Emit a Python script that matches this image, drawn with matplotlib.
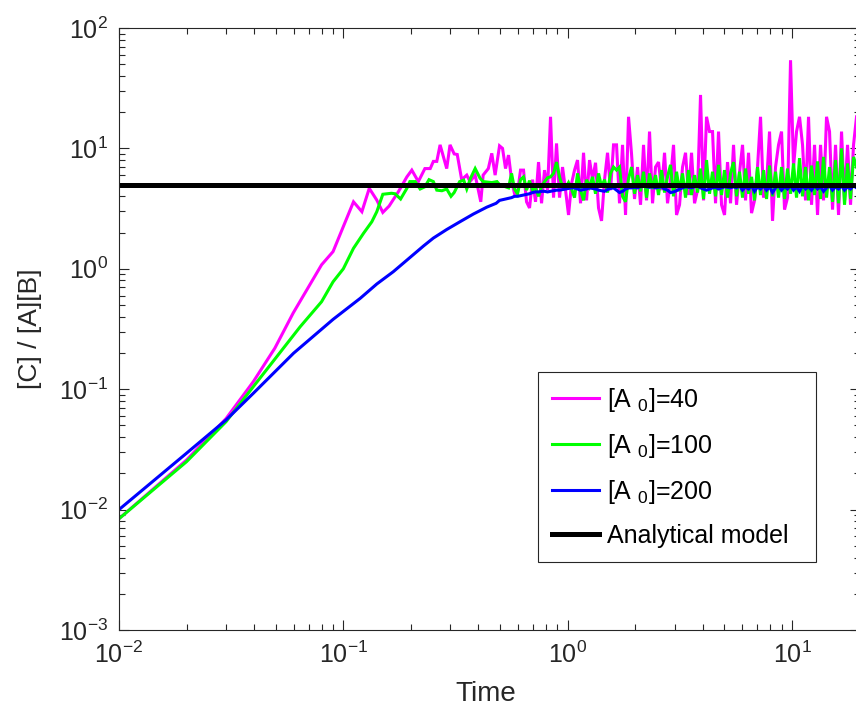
import numpy as np
import matplotlib
matplotlib.use("Agg")
import matplotlib.pyplot as plt
from matplotlib.ticker import LogLocator, NullFormatter

plt.rcParams['font.family'] = ['Liberation Sans', 'DejaVu Sans']
plt.rcParams['mathtext.fontset'] = 'custom'
plt.rcParams['mathtext.rm'] = 'Liberation Sans'
plt.rcParams['mathtext.it'] = 'Liberation Sans'
plt.rcParams['mathtext.default'] = 'regular'

# ---------------- data ----------------
labels = ['[A $_0$]=40', '[A $_0$]=100', '[A $_0$]=200', 'Analytical model']
analytical_value = 5.0

# early (smooth / transient) part
t40_early = [0.01, 0.020, 0.030, 0.0397, 0.0495, 0.0598, 0.080, 0.090, 0.111, 0.121, 0.1305, 0.141,
             0.150, 0.160, 0.176, 0.192, 0.202, 0.216, 0.231, 0.244, 0.252, 0.261, 0.270, 0.289,
             0.299, 0.312, 0.322, 0.337, 0.355, 0.367, 0.387, 0.41, 0.42, 0.443, 0.459, 0.475]
y40_early = [0.0084, 0.0258, 0.057, 0.1155, 0.219, 0.43, 1.08, 1.39, 3.6, 2.98, 4.66, 3.72,
             2.94, 3.32, 4.37, 5.8, 6.6, 5.3, 6.8, 6.8, 7.8, 7.8, 10.7, 6.8,
             10.7, 9.0, 8.9, 5.5, 6.0, 5.3, 6.0, 3.6, 6.0, 6.8, 9.1, 6.0]

t100_early = [0.01, 0.020, 0.030, 0.0397, 0.0505, 0.0642, 0.080, 0.090, 0.100, 0.111, 0.123, 0.134,
              0.141, 0.150, 0.164, 0.170, 0.180, 0.192, 0.198, 0.209, 0.22, 0.231, 0.241, 0.252,
              0.261, 0.275, 0.289, 0.302, 0.312, 0.33, 0.344, 0.355, 0.369, 0.387, 0.407, 0.42,
              0.459, 0.484]
y100_early = [0.0084, 0.025, 0.0537, 0.105, 0.186, 0.33, 0.533, 0.78, 1.0, 1.48, 1.97, 2.46,
              2.98, 4.16, 4.24, 4.2, 3.8, 4.66, 5.3, 5.3, 4.6, 4.8, 5.5, 5.3,
              4.5, 4.45, 4.6, 4.0, 4.3, 5.3, 5.45, 4.6, 5.65, 6.8, 5.65, 5.3,
              5.2, 5.3]

t200_early = [0.01, 0.020, 0.030, 0.0397, 0.060, 0.090, 0.119, 0.141, 0.167, 0.192, 0.228, 0.252,
              0.289, 0.33, 0.38, 0.436, 0.48]
y200_early = [0.0100, 0.0294, 0.0555, 0.0925, 0.199, 0.38, 0.569, 0.748, 0.946, 1.18, 1.55, 1.80,
              2.12, 2.45, 2.85, 3.25, 3.5]

# fluctuating (equilibrium) part, sampled on a log-spaced time grid
t_noise_start, t_noise_end, n_noise = 0.497, 19.4, 120

y40_noise = [10.5, 10.0, 6.8, 8.8, 5.5, 4.2, 4.3, 6.6, 6.6, 3.6, 3.2, 5.5, 3.6, 7.7, 3.5, 6.6, 4.5,
             18.3, 3.9, 11.0, 3.9, 7.0, 4.5, 2.8, 5.1, 6.6, 8.0, 3.5, 9.2, 3.7, 8.0, 5.5, 7.6,
             3.2, 2.5, 5.5, 9.2, 4.5, 10.7,
             10.7, 3.5, 10.7, 2.8, 18.3, 9.0, 3.8, 7.0, 3.4, 10.7, 3.7, 13.8, 3.5, 7.0, 7.7, 4.5,
             9.2, 3.5, 5.5, 10.7, 2.8, 3.4, 7.0, 9.2, 4.1, 9.2, 3.5, 4.5, 27.8, 3.7, 18.3, 13.8,
             13.8, 3.5, 13.8, 3.4, 2.8, 7.7, 3.5, 10.7,
             3.4, 6.3, 10.7, 3.7, 9.2, 2.9, 3.7, 7.0, 18.3, 3.9, 5.0, 13.8, 2.5, 7.0, 10.7, 13.8,
             3.1, 3.9, 54.0, 7.0, 13.8, 18.3, 10.7, 3.7, 18.3, 3.4, 10.7, 2.8, 10.7, 3.7, 18.3,
             13.8, 3.1, 10.7, 2.8, 13.8, 3.7, 10.7, 3.4, 10.7, 18.3]

y100_noise = [5.0, 4.9, 4.8, 4.7, 6.2, 4.6, 4.2, 5.5, 5.8, 4.5, 5.4, 4.5, 4.7, 4.0, 4.8, 5.3, 5.7,
              5.8, 6.2, 7.7, 5.8, 4.8, 4.7, 5.2, 4.6, 3.9, 6.2, 4.5, 3.7, 5.5, 4.8, 5.8, 4.2,
              6.2, 4.8, 5.5, 4.3, 6.2, 7.0,
              6.6, 7.0, 4.0, 3.6, 5.6, 7.0, 4.2, 6.0, 4.4, 6.4, 3.9, 6.2, 4.6, 6.0, 4.1, 6.6, 4.3,
              5.8, 7.3, 4.0, 6.4, 4.4, 6.2, 3.9, 6.6, 4.1, 6.0, 4.3, 6.8, 3.8, 8.0, 4.2, 6.4, 4.0,
              7.3, 4.1, 6.6, 3.9, 6.2, 7.7,
              4.0, 6.4, 3.9, 6.8, 4.2, 5.8, 3.7, 7.0, 4.1, 6.6, 3.8, 7.2, 4.0, 6.4, 3.9, 7.0, 3.8,
              6.8, 4.2, 7.5, 3.9, 8.3, 4.0, 7.0, 3.7, 7.2, 4.1, 7.8, 3.8, 8.5, 3.9, 7.0, 3.6, 8.0,
              3.5, 10.0, 3.4, 7.5, 3.8, 8.5, 7.0]

y200_noise = [3.7, 3.75, 3.8, 3.85, 3.9, 4.0, 4.0, 4.05, 4.1, 4.15, 4.2, 4.3, 4.35, 4.35, 4.4, 4.4,
              4.35, 4.4, 4.45, 4.5, 4.5, 4.55, 4.6, 4.65, 4.7, 4.7, 4.6, 4.5, 4.55, 4.6, 4.7,
              4.65, 4.6, 4.5, 4.45, 4.4, 4.55, 4.65, 4.7,
              4.5, 4.3, 4.4, 4.6, 4.7, 4.7, 4.75, 4.7, 4.8, 4.85, 4.8, 4.75, 4.8, 4.7, 4.75, 4.8,
              4.6, 4.5, 4.3, 4.35, 4.45, 4.6, 4.7, 4.8, 4.75, 4.7, 4.8, 4.85, 4.7, 4.6, 4.5, 4.6,
              4.7, 4.75, 4.6, 4.7, 4.8, 4.75, 4.7, 4.8,
              4.7, 4.9, 4.5, 4.8, 4.6, 4.9, 4.4, 4.8, 4.6, 4.9, 4.5, 4.8, 4.3, 4.7, 4.9, 4.5, 4.8,
              4.6, 4.9, 4.5, 4.8, 4.4, 4.9, 4.6, 4.8, 4.5, 4.9, 4.6, 4.8, 4.4, 4.7, 4.9, 4.5, 4.8,
              4.6, 4.9, 4.5, 4.8, 4.6, 4.9, 4.7]

colors = ['#FF00FF', '#00FF00', '#0000FF', '#000000']

# ---------------- plot ----------------
fig = plt.figure(figsize=(8.56, 7.08), dpi=100)
W, H = 856, 708
ax_l, ax_r, ax_t, ax_b = 119, 859.5, 28, 630
ax = fig.add_axes([ax_l / W, (H - ax_b) / H, (ax_r - ax_l) / W, (ax_b - ax_t) / H])

t_noise = np.geomspace(t_noise_start, t_noise_end, n_noise)

series = [(t40_early, y40_early, y40_noise),
          (t100_early, y100_early, y100_noise),
          (t200_early, y200_early, y200_noise)]
for (te, ye, yn), c, lab in zip(series, colors[:3], labels[:3]):
    t = np.concatenate([te, t_noise])
    y = np.concatenate([ye, yn])
    ax.plot(t, y, color=c, lw=2.2, label=lab, solid_joinstyle='miter')

ax.plot([0.01, 20], [analytical_value, analytical_value], color='black', lw=3.6,
        label=labels[3])

ax.set_xscale('log')
ax.set_yscale('log')
ax.set_xlim(0.01, 20)
ax.set_ylim(1e-3, 1e2)

tc = '#262626'
ax.tick_params(which='both', direction='in', top=True, right=True, colors=tc,
               labelsize=18, width=0.8)
ax.tick_params(which='major', length=7, pad=8)
ax.tick_params(which='minor', length=4)
ax.xaxis.set_minor_locator(LogLocator(base=10, subs=np.arange(2, 10), numticks=20))
ax.yaxis.set_minor_locator(LogLocator(base=10, subs=np.arange(2, 10), numticks=20))
ax.xaxis.set_minor_formatter(NullFormatter())
ax.yaxis.set_minor_formatter(NullFormatter())
for s in ax.spines.values():
    s.set_color(tc)
    s.set_linewidth(0.8)

ax.set_xlabel('Time', fontsize=20, color=tc)
ax.set_ylabel('[C] / [A][B]', fontsize=19, color=tc)
ax.xaxis.set_label_coords(0.495, -0.085)
ax.yaxis.set_label_coords(-0.104, 0.5)

leg_l, leg_r, leg_t, leg_b = 538, 816, 372, 553
aw, ah = ax_r - ax_l, ax_b - ax_t
leg = ax.legend(loc='upper left', mode='expand',
                bbox_to_anchor=((leg_l - ax_l) / aw, (ax_b - leg_b) / ah,
                                (leg_r - leg_l) / aw, (leg_b - leg_t) / ah),
                borderaxespad=0, fontsize=18, handlelength=1.9, handletextpad=0.3,
                labelspacing=0.72, borderpad=0.55, fancybox=False, framealpha=1,
                edgecolor=tc)
leg.get_frame().set_linewidth(0.8)
for txt in leg.get_texts():
    txt.set_color('black')

fig.savefig('out.png', dpi=100)
